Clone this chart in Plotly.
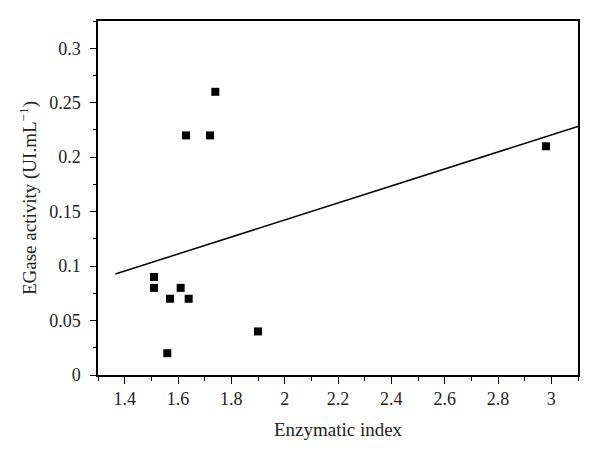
import numpy as np
import plotly.graph_objects as go

# dados
indice_enzimatico = [1.51, 1.51, 1.57, 1.56, 1.61, 1.64, 1.63, 1.72, 1.74, 1.90, 2.98]
atividade_egase = [0.09, 0.08, 0.07, 0.02, 0.08, 0.07, 0.22, 0.22, 0.26, 0.04, 0.21]
faixa_ajuste = [1.365, 3.1]

# reta de regressão linear
coef = np.polyfit(indice_enzimatico, atividade_egase, 1)
reta_y = np.polyval(coef, faixa_ajuste)

fonte = "Liberation Serif"

fig = go.Figure()
fig.add_trace(go.Scatter(x=faixa_ajuste, y=reta_y, mode="lines",
                         line=dict(color="black", width=1.5), showlegend=False))
fig.add_trace(go.Scatter(x=indice_enzimatico, y=atividade_egase, mode="markers",
                         marker=dict(symbol="square", size=8, color="black"),
                         showlegend=False))

eixo = dict(showline=True, linecolor="black", linewidth=1.5, mirror=True,
            showgrid=False, zeroline=False, ticks="outside",
            tickwidth=1.2, tickcolor="black", automargin=False,
            tickfont=dict(family=fonte, size=18, color="#222"))

fig.update_xaxes(range=[1.3, 3.1], tickmode="array", ticklen=7,
                 tickvals=[1.4, 1.6, 1.8, 2.0, 2.2, 2.4, 2.6, 2.8, 3.0],
                 ticktext=["1.4", "1.6", "1.8", "2", "2.2", "2.4", "2.6", "2.8", "3"],
                 minor=dict(ticks="outside", ticklen=4, tickcolor="black", dtick=0.1, tick0=1.3),
                 title=dict(text="Enzymatic index", font=dict(family=fonte, size=19, color="#222"),
                            standoff=14),
                 **eixo)
fig.update_yaxes(range=[0, 0.325], tickmode="array", ticklen=6,
                 tickvals=[0, 0.05, 0.1, 0.15, 0.2, 0.25, 0.3],
                 ticktext=["0", "0.05", "0.1", "0.15", "0.2", "0.25", "0.3"],
                 minor=dict(ticks="outside", ticklen=3, tickcolor="black", dtick=0.025, tick0=0),
                 title=dict(text="EGase activity (UI.mL<sup>−1</sup>)",
                            font=dict(family=fonte, size=19, color="#222"), standoff=8),
                 ticklabelstandoff=6,
                 **eixo)

# a página tem 8px de margem no body, por isso a figura é um pouco menor
fig.update_layout(width=592, height=450, plot_bgcolor="white", paper_bgcolor="white",
                  margin=dict(l=90, r=22, t=13, b=83))

fig.write_html("out.html")
